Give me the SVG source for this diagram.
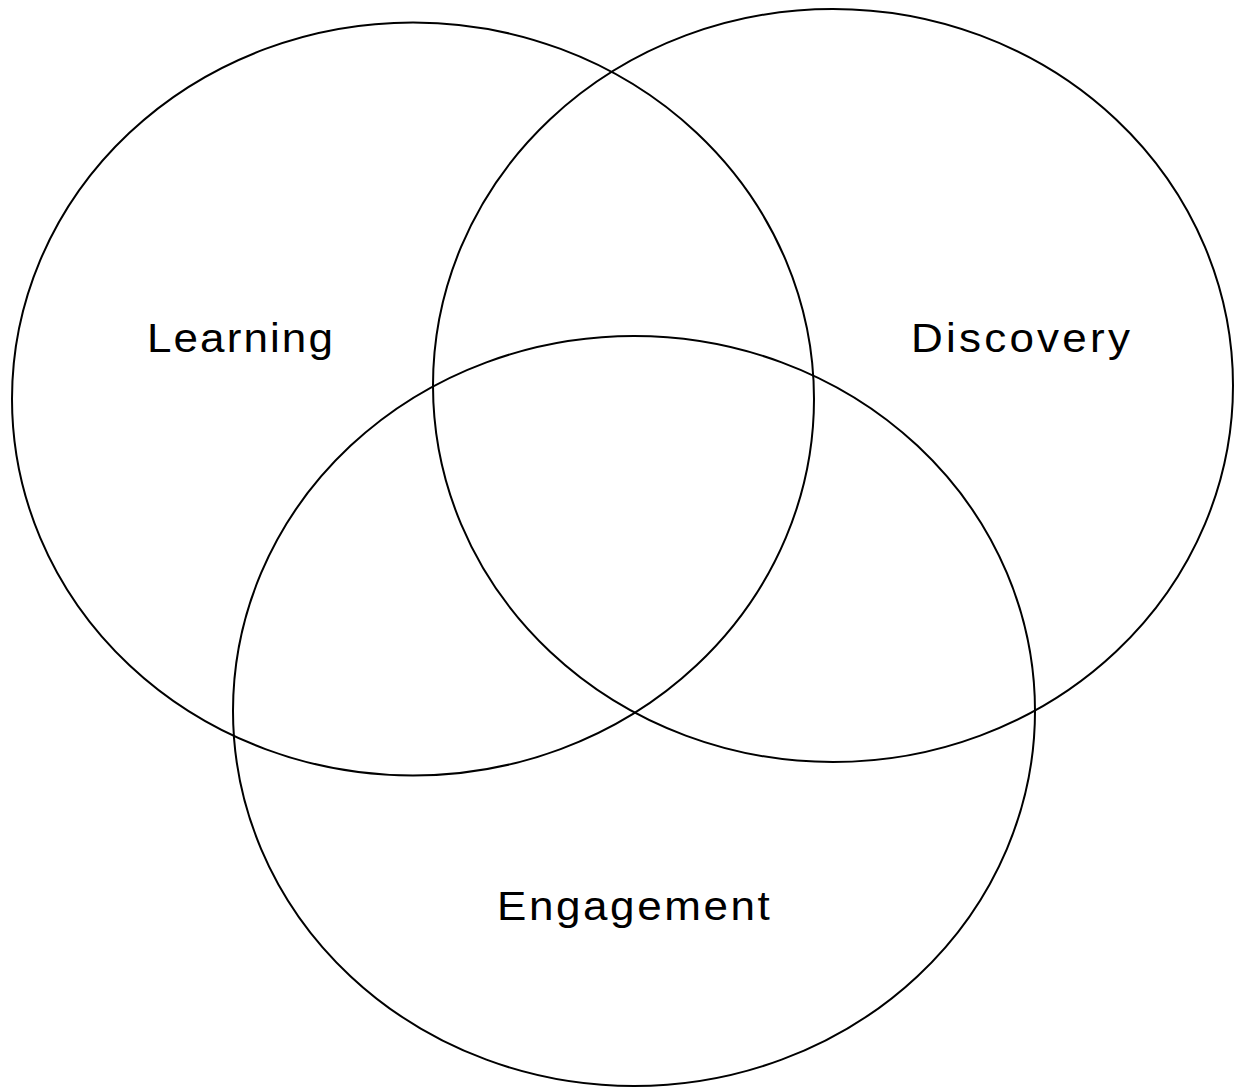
<svg xmlns="http://www.w3.org/2000/svg" width="1235" height="1087" viewBox="0 0 1235 1087">
<style>
.c{fill:none;stroke:#000;stroke-width:2}
.t{font-family:"Liberation Sans",Arial,sans-serif;font-size:40px;fill:#000}
</style>
<rect width="1235" height="1087" fill="#fff"/>
<g id="learning"><ellipse class="c" cx="413" cy="399" rx="401" ry="376.5"/><text class="t" transform="translate(147,352) scale(1.1,1)" x="0" y="0" textLength="169" lengthAdjust="spacing">Learning</text></g>
<g id="discovery"><ellipse class="c" cx="833" cy="385.5" rx="400" ry="376.5"/><text class="t" transform="translate(911,352) scale(1.1,1)" x="0" y="0" textLength="199" lengthAdjust="spacing">Discovery</text></g>
<g id="engagement"><ellipse class="c" cx="634" cy="711" rx="401" ry="375"/><text class="t" transform="translate(497,920) scale(1.1,1)" x="0" y="0" textLength="248" lengthAdjust="spacing">Engagement</text></g>
<g id="connectors"></g>
</svg>
